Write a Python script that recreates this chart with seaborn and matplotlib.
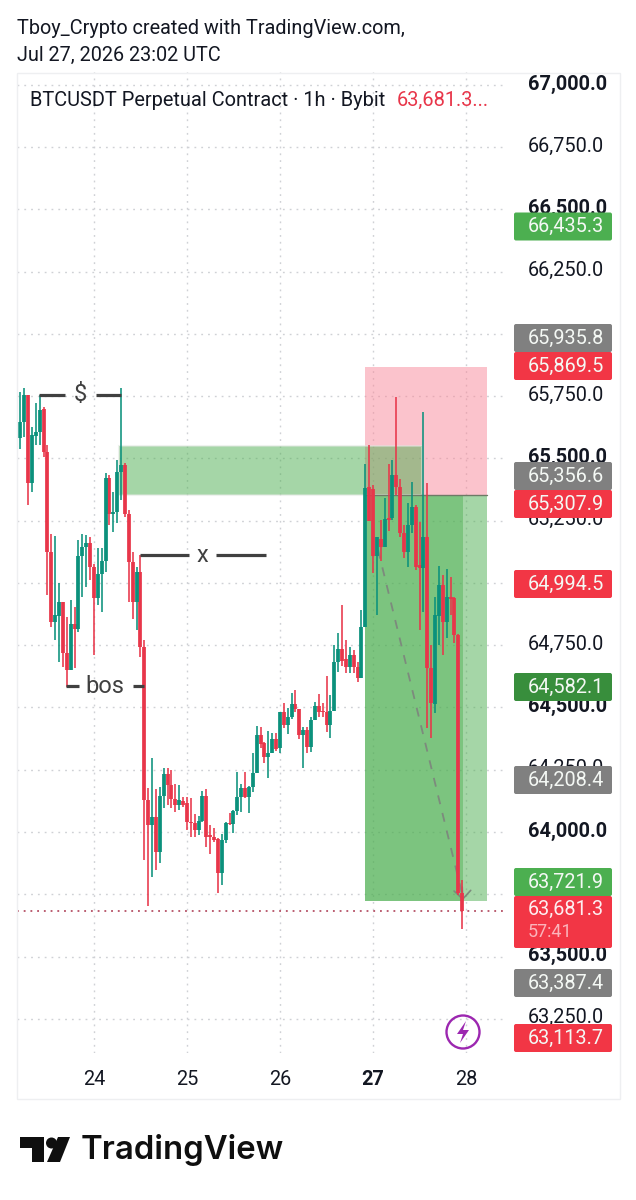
import matplotlib
matplotlib.use("Agg")
import matplotlib.pyplot as plt
from matplotlib.patches import Rectangle, FancyBboxPatch, Circle, Polygon, Ellipse
from matplotlib.transforms import ScaledTranslation
import numpy as np
import pandas as pd
import seaborn as sns

# hourly candles, first one is 20h before the "24" tick
first_hour = -20
opens = [65621, 65581, 65647, 65755, 65400, 65591, 65607, 65697, 65527, 65125,
         64844, 64867, 64924, 64720, 64650, 64835, 64817, 65108, 65143, 65159,
         65065, 64940, 65038, 65089, 65420, 65279, 65286, 65447, 65473, 65277,
         65085, 64924, 65045, 64744, 64129, 64028, 64062, 63921, 64145, 64233,
         64189, 64131, 64108, 64126, 64115, 64042, 64038, 64008, 64046, 64145,
         63988, 63981, 63972, 63837, 63968, 64038, 64031, 64086, 64139, 64175,
         64142, 64182, 64236, 64390, 64356, 64300, 64316, 64374, 64336, 64481,
         64430, 64463, 64514, 64494, 64390, 64410, 64343, 64450, 64504, 64487,
         64483, 64430, 64487, 64684, 64734, 64694, 64664, 64711, 64664, 64617,
         64822, 65387, 65376, 65109, 65176, 65143, 65260, 65260, 65434, 65385,
         65200, 65126, 65233, 65307, 65072, 65059, 65186, 64659, 64514, 64867,
         64992, 64843, 64944, 64940, 64791, 63755]
highs = [65701, 65768, 65781, 65755, 65627, 65721, 65755, 65705, 65554, 65196,
         65188, 64998, 64924, 64864, 64931, 64902, 65172, 65196, 65192, 65185,
         65078, 65139, 65139, 65440, 65433, 65366, 65493, 65781, 65483, 65293,
         65125, 65065, 65112, 64771, 64175, 64296, 64171, 64179, 64256, 64256,
         64249, 64193, 64189, 64142, 64142, 64135, 64071, 64064, 64166, 64171,
         64028, 64015, 63975, 63992, 64042, 64075, 64088, 64240, 64193, 64242,
         64185, 64316, 64426, 64420, 64363, 64407, 64399, 64396, 64483, 64517,
         64497, 64557, 64570, 64494, 64423, 64423, 64463, 64521, 64554, 64517,
         64627, 64550, 64751, 64801, 64912, 64771, 64742, 64731, 64684, 64892,
         65478, 65555, 65394, 65186, 65253, 65340, 65478, 65494, 65746, 65417,
         65233, 65320, 65407, 65313, 65244, 65688, 65401, 64751, 64944, 65068,
         65032, 65056, 65024, 64944, 64795, 63807]
lows = [65560, 65540, 65587, 65313, 65366, 65554, 65554, 65507, 64951, 64824,
        64770, 64683, 64663, 64583, 64650, 64657, 64804, 64944, 64985, 65011,
        64710, 64911, 64884, 65045, 65232, 65206, 65242, 65333, 65266, 64924,
        64857, 64813, 64703, 63888, 63704, 63818, 63847, 63874, 64095, 64108,
        64095, 64082, 64088, 64102, 64008, 63981, 63981, 63988, 64042, 63941,
        63910, 63961, 63754, 63787, 63955, 64028, 63997, 64068, 64082, 64135,
        64078, 64162, 64236, 64336, 64278, 64217, 64316, 64327, 64316, 64416,
        64392, 64454, 64483, 64372, 64258, 64316, 64323, 64450, 64463, 64463,
        64403, 64379, 64487, 64641, 64667, 64637, 64637, 64637, 64604, 64617,
        64822, 65247, 65039, 64872, 65089, 65143, 65210, 65253, 65354, 65186,
        65099, 65066, 65202, 65052, 64811, 64885, 64418, 64378, 64478, 64751,
        64711, 64779, 64871, 64759, 63745, 63610]
closes = [65581, 65647, 65755, 65400, 65594, 65607, 65694, 65527, 65125, 64844,
          64871, 64924, 64720, 64650, 64835, 64817, 65108, 65145, 65159, 65065,
          64940, 65038, 65089, 65420, 65279, 65286, 65447, 65473, 65277, 65085,
          64924, 65045, 64744, 64129, 64028, 64062, 63921, 64145, 64233, 64189,
          64131, 64108, 64129, 64108, 64042, 64038, 64008, 64046, 64145, 63981,
          63981, 63968, 63837, 63968, 64035, 64031, 64086, 64139, 64175, 64142,
          64182, 64236, 64390, 64354, 64300, 64316, 64374, 64332, 64481, 64430,
          64463, 64514, 64494, 64390, 64410, 64343, 64450, 64504, 64483, 64483,
          64430, 64487, 64684, 64734, 64688, 64664, 64711, 64664, 64617, 64822,
          65380, 65247, 65109, 65186, 65143, 65256, 65253, 65434, 65385, 65200,
          65126, 65233, 65307, 65066, 65059, 65186, 64659, 64518, 64871, 64992,
          64843, 64944, 64936, 64791, 63755, 63681.3]

last_price = 63681.3
price_ticks = list(range(63250, 67001, 250))
bold_ticks = [63500, 64000, 64500, 65500, 66500, 67000]
day_ticks = [0, 24, 48, 72, 96]
day_labels = ["24", "25", "26", "27", "28"]

# position tool and zone
entry, stop, target = 65355, 65867, 63723
zone_top, zone_bottom = 65550, 65353

# axis price tags: text, colour
tag_text = ["66,435.3", "65,935.8", "65,869.5", "65,356.6", "65,307.9", "64,994.5",
            "64,582.1", "64,208.4", "63,721.9", "63,387.4", "63,113.7"]
tag_colors = ["#4CAF50", "#808080", "#F23645", "#808080", "#F23645", "#F23645",
              "#388E3C", "#808080", "#4CAF50", "#808080", "#F23645"]
tag_centers = [226.5, 338, 366, 476, 504, 584, 687, 780, 882, 983, 1038]

TEAL, RED = "#0B917C", "#E8364A"
INK = "#131722"

sns.set_theme(style="white")
plt.rcParams["font.family"] = ["Roboto", "DejaVu Sans"]

fig = plt.figure(figsize=(6.36, 12), dpi=100, facecolor="white")
ax = fig.add_axes([17 / 636, 1 - 1053 / 1200, 490 / 636, 981 / 1200])

hours = first_hour + np.arange(len(opens))
df = pd.DataFrame({"hour": hours, "open": opens, "high": highs, "low": lows, "close": closes})
df["dir"] = np.where(df["close"] >= df["open"], "up", "down")
palette = {"up": TEAL, "down": RED}

wicks = df.melt(id_vars=["hour", "dir"], value_vars=["low", "high"], value_name="price")
bodies = df.melt(id_vars=["hour", "dir"], value_vars=["open", "close"], value_name="price")

sns.lineplot(data=wicks, x="hour", y="price", hue="dir", units="hour", estimator=None,
             palette=palette, linewidth=1.15, legend=False, ax=ax, zorder=3,
             solid_capstyle="butt")
sns.lineplot(data=bodies, x="hour", y="price", hue="dir", units="hour", estimator=None,
             palette=palette, linewidth=2.7, legend=False, ax=ax, zorder=3,
             solid_capstyle="butt")

ax.set_xlim(-19.87, 106.58)
ax.set_ylim(63112.5, 67052)
ax.set_xlabel("")
ax.set_ylabel("")

# grid
ax.set_axisbelow(True)
ax.grid(True, color="#cfd1d5", linewidth=1, linestyle=(0, (1.3, 3.6)))
for s in ax.spines.values():
    s.set_visible(False)

ax.set_xticks(day_ticks)
ax.set_xticklabels(day_labels, fontsize=14.3, color=INK)
ax.xaxis.get_ticklabels()[3].set_fontweight("bold")
ax.set_yticks(price_ticks)
ax.yaxis.tick_right()
ax.tick_params(axis="y", length=0, pad=15)
ax.tick_params(axis="x", length=0, pad=12)
ax.set_yticklabels([f"{p:,.1f}" for p in price_ticks], fontsize=14.3, color=INK)
up_shift = ScaledTranslation(0, 3 / 100, fig.dpi_scale_trans)
for p, tick in zip(price_ticks, ax.yaxis.get_major_ticks()):
    tick.label2.set_transform(tick.label2.get_transform() + up_shift)
    if p in bold_ticks:
        tick.label2.set_fontweight("bold")

# short/long position boxes
pos_left, pos_right, pos_end = 69.94, 101.4, 95.2
ax.add_patch(Rectangle((pos_left, entry), pos_right - pos_left, stop - entry,
                       facecolor="#F9899A", alpha=0.5, edgecolor="none", zorder=2))
ax.add_patch(Rectangle((pos_left, target), pos_right - pos_left, entry - target,
                       facecolor="#4CAF50", alpha=0.5, edgecolor="none", zorder=2))
ax.add_patch(Rectangle((pos_left, target), pos_end - pos_left, entry - target,
                       facecolor="#4CAF50", alpha=0.45, edgecolor="none", zorder=2))
ax.plot([pos_left, pos_right], [entry, entry], color="#6d7a66", lw=1, zorder=2.5)

# supply zone
ax.add_patch(Rectangle((6.45, zone_bottom), 84.65 - 6.45, zone_top - zone_bottom,
                       facecolor="#4CAF50", alpha=0.5, edgecolor="#dfe6df", lw=1.5, zorder=2))

# current price line
ax.axhline(last_price, color="#a8324a", linewidth=1.1, linestyle=(0, (1.2, 3.2)), zorder=2.6)

# projection arrow
ax.plot([73.3, 95.2], [65133, 63739], color="#7d8a7d", lw=1.3, linestyle=(0, (5, 5)), zorder=2.7)
ax.annotate("", xy=(95.2, 63715), xytext=(95.0, 63790),
            arrowprops=dict(arrowstyle="->,head_length=0.5,head_width=0.5", color="#7d8a7d", lw=1.2),
            zorder=2.7)

# hand drawn labels
DRAW = "#404040"
for x0, x1, price in [(-14.2, -7.6, 65755), (0.5, 7.0, 65755),
                      (11.9, 24.6, 65112), (31.6, 44.4, 65112),
                      (-7.2, -3.8, 64586), (10.0, 13.0, 64586)]:
    ax.plot([x0, x1], [price, price], color=DRAW, lw=2.3, zorder=5, solid_capstyle="butt")
for x, price, label in [(-3.6, 65755, "$"), (28.1, 65112, "x"), (2.9, 64586, "bos")]:
    ax.text(x, price, label, fontsize=17, color=DRAW, ha="center", va="center", zorder=5)

# overlay in pixel coordinates for the frame, tags, header and logo
ov = fig.add_axes([0, 0, 1, 1], zorder=10)
ov.set_xlim(0, 636)
ov.set_ylim(1200, 0)
ov.axis("off")
ov.patch.set_alpha(0)

ov.add_patch(Rectangle((17, 73), 603, 1026, fill=False, edgecolor="#eeeff1", lw=1))

ov.text(17, 28, "Tboy_Crypto created with TradingView.com,", fontsize=14.3, color=INK, va="center")
ov.text(17, 55, "Jul 27, 2026 23:02 UTC", fontsize=14.3, color=INK, va="center")
ov.text(30, 100.5, "BTCUSDT Perpetual Contract · 1h · Bybit", fontsize=14.4, color=INK, va="center")
ov.text(397, 100.5, "63,681.3...", fontsize=14.4, color=RED, va="center")

for text, color, yc in zip(tag_text, tag_colors, tag_centers):
    ov.add_patch(FancyBboxPatch((514, yc - 14), 98, 28, boxstyle="round,pad=0,rounding_size=2",
                                facecolor=color, edgecolor="none"))
    ov.text(528, yc, text, fontsize=14.3, color="#f4f8f4", va="center")
# last price tag has the countdown under it
ov.add_patch(FancyBboxPatch((514, 896), 98, 52, boxstyle="round,pad=0,rounding_size=2",
                            facecolor="#F23645", edgecolor="none"))
ov.text(528, 909, "63,681.3", fontsize=14.3, color="#fdeef0", va="center")
ov.text(528, 932, "57:41", fontsize=13, color="#fbb4bb", va="center")

# bolt icon
ov.add_patch(Ellipse((463, 1032), 33, 33, fill=False, edgecolor="#9C27B0", lw=1.7))
ov.add_patch(Polygon([(466, 1021), (457, 1034), (463, 1034), (460, 1043), (469, 1030), (463, 1030)],
                     closed=True, facecolor="#9C27B0", edgecolor="none"))

# logo
LOGO = "#0f0f0f"
ov.add_patch(Polygon([(20, 1137), (44, 1137), (44, 1162), (32, 1162), (32, 1148), (20, 1148)],
                     closed=True, facecolor=LOGO, edgecolor="none"))
ov.add_patch(Circle((51.5, 1143), 5.5, facecolor=LOGO, edgecolor="none"))
ov.add_patch(Polygon([(70, 1137), (58, 1137), (47, 1162), (60, 1162)],
                     closed=True, facecolor=LOGO, edgecolor="none"))
ov.text(81, 1150, "TradingView", fontsize=23.7, fontweight="semibold", color=LOGO, va="center",
        family=["Inter", "DejaVu Sans"])

fig.savefig("out.png", dpi=100)
plt.close(fig)
